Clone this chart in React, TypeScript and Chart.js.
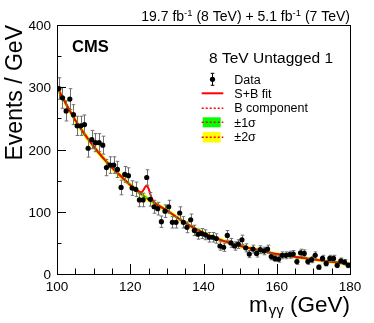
import React, { useEffect, useRef } from "react";
import { Chart, registerables } from "chart.js";

Chart.register(...registerables);

// ---------- data ----------
const massBins = [
  100.5, 101.5, 102.5, 103.5, 104.5, 105.5, 106.5, 107.5, 108.5, 109.5,
  110.5, 111.5, 112.5, 113.5, 114.5, 115.5, 116.5, 117.5, 118.5, 119.5,
  120.5, 121.5, 122.5, 123.5, 124.5, 125.5, 126.5, 127.5, 128.5, 129.5,
  130.5, 131.5, 132.5, 133.5, 134.5, 135.5, 136.5, 137.5, 138.5, 139.5,
  140.5, 141.5, 142.5, 143.5, 144.5, 145.5, 146.5, 147.5, 148.5, 149.5,
  150.5, 151.5, 152.5, 153.5, 154.5, 155.5, 156.5, 157.5, 158.5, 159.5,
  160.5, 161.5, 162.5, 163.5, 164.5, 165.5, 166.5, 167.5, 168.5, 169.5,
  170.5, 171.5, 172.5, 173.5, 174.5, 175.5, 176.5, 177.5, 178.5, 179.5,
];
const dataCounts = [
  298, 283, 262, 281, 256, 238, 238, 240, 202, 216,
  211, 211, 207, 171, 175, 175, 168, 139, 160, 158,
  138, 136, 119, 119, 155, 120, 108, 105, 84, 101,
  108, 83, 83, 98, 83, 75, 87, 70, 64, 65,
  63, 59, 59, 57, 45, 43, 62, 50, 45, 48,
  55, 42, 32, 40, 33, 39, 37, 40, 28, 25,
  24, 30, 30, 31, 32, 20, 34, 33, 20, 23,
  30, 11, 25, 17, 25, 25, 14, 21, 19, 14,
];

const fitMass = [100, 105, 110, 115, 118, 120, 122, 124, 126, 128, 130, 135, 140, 145, 150, 155, 160, 165, 170, 175, 180];
const bkgFit = [300, 247, 205, 171, 154, 143, 133, 124, 116, 109, 102, 82, 66, 54, 45, 38.5, 32, 27.5, 23.5, 19.5, 16];
const err1 = [3.5, 3, 2.8, 2.5, 2.4, 2.3, 2.2, 2.2, 2.1, 2.1, 2, 2, 1.8, 1.7, 1.6, 1.6, 1.5, 1.5, 1.5, 1.5, 1.6];
const err2 = [7, 6, 5.5, 5, 4.8, 4.6, 4.4, 4.4, 4.2, 4.2, 4, 4, 3.6, 3.4, 3.2, 3.2, 3, 3, 3, 3, 3.2];

const sbMass = [100, 105, 110, 115, 118, 120, 122, 123, 123.5, 124, 124.5, 125, 125.5, 126, 126.5, 127, 128, 130, 135, 140, 145, 150, 155, 160, 165, 170, 175, 180];
const sbFit = [300, 247, 205, 171, 154, 143, 134, 131.5, 134, 139, 142, 137, 128, 120, 116, 113, 109, 102, 82, 66, 54, 45, 38.5, 32, 27.5, 23.5, 19.5, 16];

const xTicks = [100, 120, 140, 160, 180];
const yTicks = [0, 100, 200, 300, 400];

const FONT = "'Liberation Sans', Arial, Helvetica, sans-serif";

const pts = (xs: number[], ys: number[]) => xs.map((x, i) => ({ x, y: ys[i] }));

function dotted(ctx: CanvasRenderingContext2D, x0: number, x1: number, y: number) {
  ctx.save();
  ctx.strokeStyle = "#ff0000";
  ctx.lineWidth = 1.5;
  ctx.setLineDash([2, 2]);
  ctx.beginPath();
  ctx.moveTo(x0, y);
  ctx.lineTo(x1, y);
  ctx.stroke();
  ctx.restore();
}

const errorBars = {
  id: "errorBars",
  beforeDatasetDraw(chart: any, args: any) {
    if (args.index !== 0) return;
    const ctx = chart.ctx as CanvasRenderingContext2D;
    const xs = chart.scales.x;
    const ys = chart.scales.y;
    ctx.save();
    ctx.strokeStyle = "#707070";
    ctx.lineWidth = 1;
    massBins.forEach((m, i) => {
      const n = dataCounts[i];
      const e = Math.sqrt(n);
      const px = Math.round(xs.getPixelForValue(m)) + 0.5;
      const top = ys.getPixelForValue(n + e);
      const bot = ys.getPixelForValue(Math.max(0, n - e));
      ctx.beginPath();
      ctx.moveTo(px, top);
      ctx.lineTo(px, bot);
      ctx.moveTo(px - 1.8, top);
      ctx.lineTo(px + 1.8, top);
      ctx.moveTo(px - 1.8, bot);
      ctx.lineTo(px + 1.8, bot);
      ctx.stroke();
    });
    ctx.restore();
  },
};

const overlay = {
  id: "overlay",
  afterDraw(chart: any) {
    const ctx = chart.ctx as CanvasRenderingContext2D;
    const a = chart.chartArea;
    const xs = chart.scales.x;
    const ys = chart.scales.y;
    ctx.save();

    // frame
    ctx.strokeStyle = "#000";
    ctx.lineWidth = 1;
    ctx.strokeRect(Math.round(a.left) + 0.5, Math.round(a.top) + 0.5, Math.round(a.right - a.left), Math.round(a.bottom - a.top));

    // x ticks (inside)
    ctx.beginPath();
    for (let v = 100; v <= 180; v += 5) {
      const px = Math.round(xs.getPixelForValue(v)) + 0.5;
      const len = v % 20 === 0 ? 10 : 5.5;
      ctx.moveTo(px, a.bottom);
      ctx.lineTo(px, a.bottom - len);
    }
    for (let v = 0; v <= 400; v += 50) {
      const py = Math.round(ys.getPixelForValue(v)) + 0.5;
      const len = v % 100 === 0 ? 9 : 4.5;
      ctx.moveTo(a.left, py);
      ctx.lineTo(a.left + len, py);
    }
    ctx.stroke();

    // tick labels
    ctx.fillStyle = "#000";
    ctx.font = `13.5px ${FONT}`;
    ctx.textAlign = "center";
    ctx.textBaseline = "alphabetic";
    xTicks.forEach((v) => ctx.fillText(String(v), xs.getPixelForValue(v), 291));
    ctx.textAlign = "right";
    yTicks.forEach((v) => ctx.fillText(String(v), 51, ys.getPixelForValue(v) + 5));

    // y title
    ctx.save();
    ctx.translate(22, a.top);
    ctx.rotate(-Math.PI / 2);
    ctx.font = `23px ${FONT}`;
    ctx.textAlign = "right";
    ctx.fillText("Events / GeV", 0, 0);
    ctx.restore();

    // x title: m_γγ (GeV)
    const mainF = `22.5px ${FONT}`;
    const subF = `15px ${FONT}`;
    ctx.textAlign = "left";
    ctx.font = mainF;
    const wm = ctx.measureText("m").width;
    const wr = ctx.measureText(" (GeV)").width;
    ctx.font = subF;
    const ws = ctx.measureText("γγ").width;
    let x0 = a.right - (wm + ws + wr + 1);
    ctx.font = mainF;
    ctx.fillText("m", x0, 311.5);
    ctx.font = subF;
    ctx.fillText("γγ", x0 + wm + 1, 314.5);
    ctx.font = mainF;
    ctx.fillText(" (GeV)", x0 + wm + ws + 1, 311.5);

    // top lumi text
    const parts: [string, string, number][] = [
      ["19.7 fb", `14px ${FONT}`, 0],
      ["-1", `9.5px ${FONT}`, -5.5],
      [" (8 TeV) + 5.1 fb", `14px ${FONT}`, 0],
      ["-1", `9.5px ${FONT}`, -5.5],
      [" (7 TeV)", `14px ${FONT}`, 0],
    ];
    let tw = 0;
    parts.forEach(([t, f]) => {
      ctx.font = f;
      tw += ctx.measureText(t).width;
    });
    let cx = a.right - tw;
    parts.forEach(([t, f, dy]) => {
      ctx.font = f;
      ctx.fillText(t, cx, 21.3 + dy);
      cx += ctx.measureText(t).width;
    });

    // CMS
    ctx.font = `bold 16.5px ${FONT}`;
    ctx.fillText("CMS", 72, 51.7);

    // category header
    ctx.font = `15.5px ${FONT}`;
    ctx.fillText("8 TeV Untagged 1", 209, 63);

    // legend
    const lx0 = 201.7;
    const lx1 = 223.3;
    // Data
    ctx.strokeStyle = "#000";
    ctx.lineWidth = 1;
    ctx.beginPath();
    ctx.moveTo(212.5, 73.3);
    ctx.lineTo(212.5, 85.3);
    ctx.moveTo(210.7, 73.3);
    ctx.lineTo(214.3, 73.3);
    ctx.moveTo(210.7, 85.3);
    ctx.lineTo(214.3, 85.3);
    ctx.stroke();
    ctx.beginPath();
    ctx.arc(212.5, 79.3, 2.6, 0, Math.PI * 2);
    ctx.fill();
    // S+B
    ctx.strokeStyle = "#ff0000";
    ctx.lineWidth = 2;
    ctx.beginPath();
    ctx.moveTo(lx0, 93.3);
    ctx.lineTo(lx1, 93.3);
    ctx.stroke();
    // B component
    dotted(ctx, lx0, lx1, 108.3);
    // ±1σ
    ctx.fillStyle = "#00ff00";
    ctx.fillRect(202.7, 117.3, 18, 10);
    dotted(ctx, lx0, lx1, 122.3);
    // ±2σ
    ctx.fillStyle = "#ffff00";
    ctx.fillRect(202.7, 132, 18, 10.5);
    dotted(ctx, lx0, lx1, 137.3);

    ctx.fillStyle = "#000";
    ctx.font = `12.5px ${FONT}`;
    ctx.fillText("Data", 234.3, 83.7);
    ctx.fillText("S+B fit", 234.3, 98);
    ctx.fillText("B component", 234.3, 112.4);
    ctx.fillText("±1σ", 234.3, 126.8);
    ctx.fillText("±2σ", 234.3, 141.2);

    ctx.restore();
  },
};

export default function App() {
  const ref = useRef<HTMLCanvasElement>(null);

  useEffect(() => {
    document.body.style.margin = "0";
    const canvas = ref.current;
    if (!canvas) return;
    const up1 = fitMass.map((m, i) => ({ x: m, y: bkgFit[i] + err1[i] }));
    const lo1 = fitMass.map((m, i) => ({ x: m, y: bkgFit[i] - err1[i] }));
    const up2 = fitMass.map((m, i) => ({ x: m, y: bkgFit[i] + err2[i] }));
    const lo2 = fitMass.map((m, i) => ({ x: m, y: bkgFit[i] - err2[i] }));
    const common = { pointRadius: 0, cubicInterpolationMode: "monotone" as const };
    const chart = new Chart(canvas, {
      type: "line",
      data: {
        datasets: [
          {
            label: "Data",
            data: pts(massBins, dataCounts),
            showLine: false,
            pointRadius: 2.6,
            pointBackgroundColor: "#000",
            pointBorderColor: "#000",
            pointBorderWidth: 0,
            order: 0,
          },
          { label: "S+B fit", data: pts(sbMass, sbFit), borderColor: "#ff0000", borderWidth: 2, fill: false, order: 1, ...common },
          { label: "B component", data: pts(fitMass, bkgFit), borderColor: "#ff0000", borderWidth: 1.5, borderDash: [2, 2], fill: false, order: 2, ...common },
          { label: "up1", data: up1, borderWidth: 0, borderColor: "rgba(0,0,0,0)", backgroundColor: "#00ff00", fill: "+1", order: 3, ...common },
          { label: "lo1", data: lo1, borderWidth: 0, borderColor: "rgba(0,0,0,0)", fill: false, order: 4, ...common },
          { label: "up2", data: up2, borderWidth: 0, borderColor: "rgba(0,0,0,0)", backgroundColor: "#ffff00", fill: "+1", order: 5, ...common },
          { label: "lo2", data: lo2, borderWidth: 0, borderColor: "rgba(0,0,0,0)", fill: false, order: 6, ...common },
        ],
      },
      options: {
        animation: false,
        responsive: false,
        maintainAspectRatio: false,
        devicePixelRatio: 1,
        layout: { padding: { left: 57, top: 25, right: 24, bottom: 49 } },
        scales: {
          x: { type: "linear", min: 100, max: 180, display: false },
          y: { type: "linear", min: 0, max: 400, display: false },
        },
        plugins: { legend: { display: false }, tooltip: { enabled: false } },
        events: [],
      },
      plugins: [errorBars, overlay],
    });
    return () => chart.destroy();
  }, []);

  return (
    <div style={{ width: 374, height: 323, background: "#fff" }}>
      <canvas ref={ref} width={374} height={323} style={{ display: "block", width: 374, height: 323 }} />
    </div>
  );
}
